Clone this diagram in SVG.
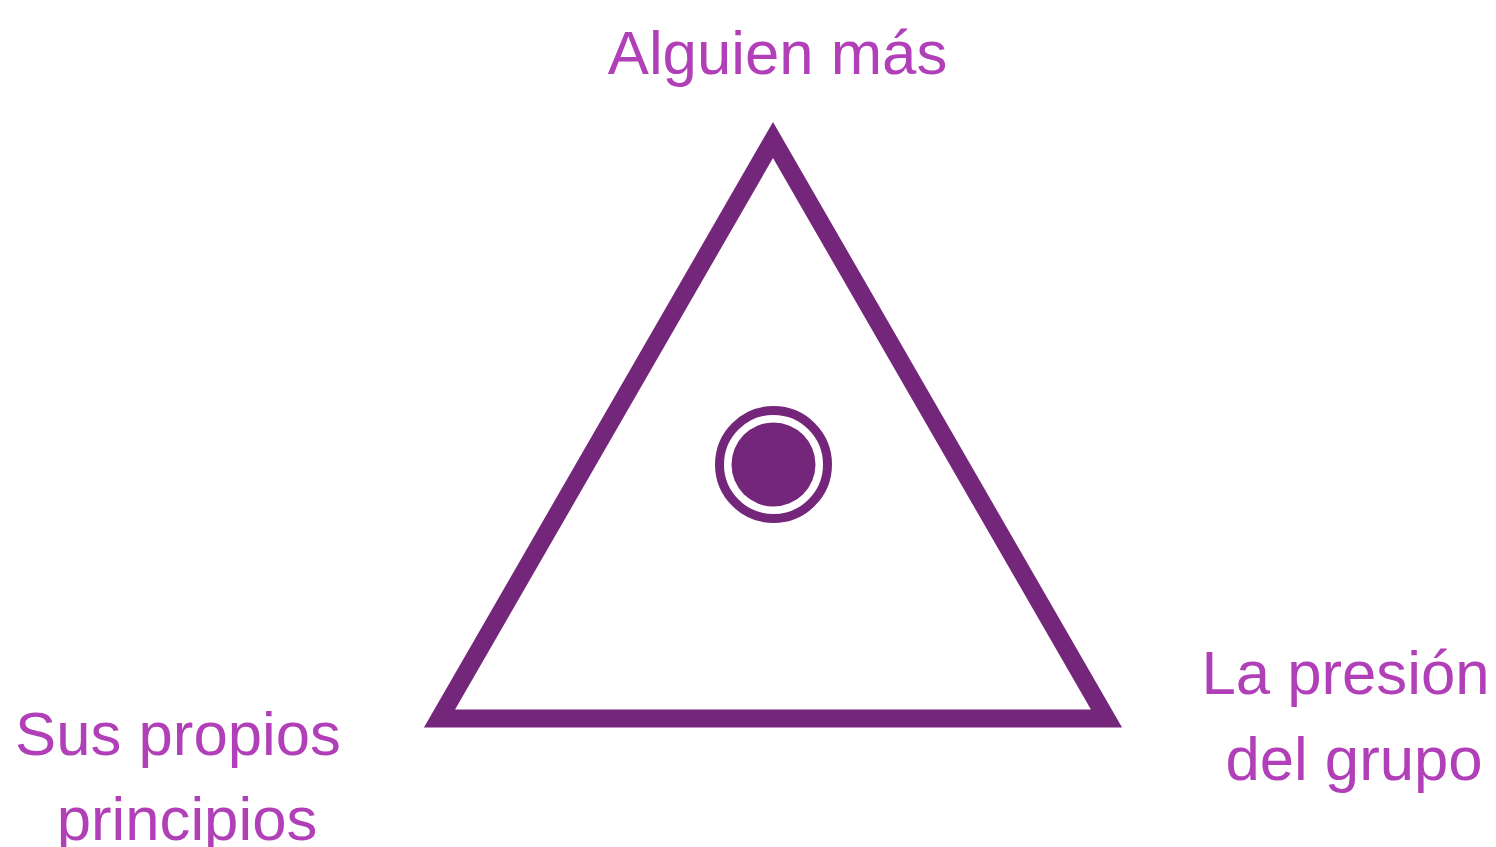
<svg xmlns="http://www.w3.org/2000/svg" width="1496" height="847" viewBox="0 0 1496 847">
<style>
.lbl{font-family:"Liberation Sans",Arial,sans-serif;font-size:61.7px;fill:#b13fb7;text-anchor:middle}
.tri{fill:none;stroke:#74277a;stroke-width:18;stroke-linejoin:miter;stroke-miterlimit:10}
</style>
<rect width="1496" height="847" fill="#ffffff"/>
<g id="triangle">
<polygon class="tri" points="773,140 439.5,718.5 1106.5,718.5"/>
</g>
<g id="center">
<circle cx="773.5" cy="464.5" r="54" fill="#ffffff" stroke="#74277a" stroke-width="9"/>
<circle cx="773.5" cy="464.5" r="42" fill="#74277a"/>
</g>
<g id="top-label">
<text class="lbl" x="777.5" y="74">Alguien más</text>
</g>
<g id="left-label">
<text class="lbl" x="178" y="755">Sus propios</text>
<text class="lbl" x="187" y="840">principios</text>
</g>
<g id="right-label">
<text class="lbl" x="1345.5" y="694">La presión</text>
<text class="lbl" x="1354" y="780">del grupo</text>
</g>
<g id="connectors"></g>
</svg>
